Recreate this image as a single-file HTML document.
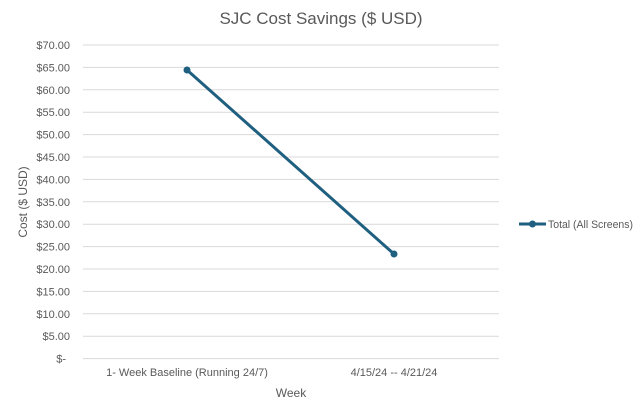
<!DOCTYPE html>
<html><head><style>body{margin:0;background:#fff}</style></head><body>
<svg width="643" height="413" xmlns="http://www.w3.org/2000/svg" font-family="Liberation Sans, sans-serif">
<rect width="643" height="413" fill="#fff"/>
<text x="321" y="24" font-size="17" fill="#595959" text-anchor="middle">SJC Cost Savings ($ USD)</text>
<g stroke="#d9d9d9" stroke-width="1">
<line x1="83" x2="499" y1="45" y2="45"/><line x1="83" x2="499" y1="67.4" y2="67.4"/>
<line x1="83" x2="499" y1="89.8" y2="89.8"/><line x1="83" x2="499" y1="112.2" y2="112.2"/>
<line x1="83" x2="499" y1="134.6" y2="134.6"/><line x1="83" x2="499" y1="157" y2="157"/>
<line x1="83" x2="499" y1="179.4" y2="179.4"/><line x1="83" x2="499" y1="201.8" y2="201.8"/>
<line x1="83" x2="499" y1="224.2" y2="224.2"/><line x1="83" x2="499" y1="246.6" y2="246.6"/>
<line x1="83" x2="499" y1="269" y2="269"/><line x1="83" x2="499" y1="291.4" y2="291.4"/>
<line x1="83" x2="499" y1="313.8" y2="313.8"/><line x1="83" x2="499" y1="336.2" y2="336.2"/>
<line x1="83" x2="499" y1="358.6" y2="358.6"/>
</g>
<g font-size="11" fill="#595959" text-anchor="end">
<text x="70" y="49">$70.00</text><text x="70" y="71.4">$65.00</text><text x="70" y="93.8">$60.00</text>
<text x="70" y="116.2">$55.00</text><text x="70" y="138.6">$50.00</text><text x="70" y="161">$45.00</text>
<text x="70" y="183.4">$40.00</text><text x="70" y="205.8">$35.00</text><text x="70" y="228.2">$30.00</text>
<text x="70" y="250.6">$25.00</text><text x="70" y="273">$20.00</text><text x="70" y="295.4">$15.00</text>
<text x="70" y="317.8">$10.00</text><text x="70" y="340.2">$5.00</text><text x="66" y="362.6">$-</text>
</g>
<g font-size="11" fill="#595959" text-anchor="middle">
<text x="187" y="376">1- Week Baseline (Running 24/7)</text>
<text x="394" y="376">4/15/24 -- 4/21/24</text>
</g>
<text x="291" y="397" font-size="12" fill="#595959" text-anchor="middle">Week</text>
<text transform="translate(27,202) rotate(-90)" font-size="12" fill="#595959" text-anchor="middle">Cost ($ USD)</text>
<polyline points="187,70 394,254" stroke="#1f5f7f" stroke-width="3" fill="none"/>
<circle cx="187" cy="70" r="3.5" fill="#1f5f7f"/><circle cx="394" cy="254" r="3.5" fill="#1f5f7f"/>
<line x1="519" x2="546" y1="224" y2="224" stroke="#1f5f7f" stroke-width="3"/>
<circle cx="532.5" cy="224" r="3.5" fill="#1f5f7f"/>
<text x="548" y="228" font-size="11" fill="#595959" textLength="85" lengthAdjust="spacingAndGlyphs">Total (All Screens)</text>
</svg>
</body></html>
